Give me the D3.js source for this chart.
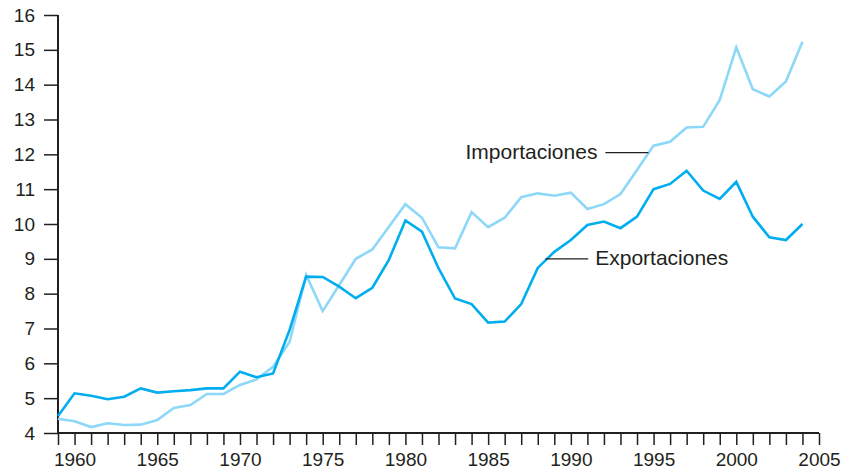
<!DOCTYPE html>
<html>
<head>
<meta charset="utf-8">
<script src="https://cdn.jsdelivr.net/npm/d3@7"></script>
<style>
  body { margin: 0; background: #fff; }
  svg text { font-family: "Liberation Sans", Arial, sans-serif; fill: #231f20; }
</style>
</head>
<body>
<svg class="chart" width="854" height="476"></svg>
<script>
// years 1959 .. 2004
const years = d3.range(1959, 2005)

const exportaciones = [
  4.49, 5.14, 5.07, 4.97, 5.04, 5.28, 5.16, 5.20, 5.23, 5.28,
  5.28, 5.76, 5.60, 5.71, 6.96, 8.49, 8.48, 8.20, 7.87, 8.17,
  8.97, 10.10, 9.78, 8.73, 7.86, 7.70, 7.17, 7.20, 7.70, 8.74,
  9.20, 9.54, 9.97, 10.07, 9.88, 10.21, 11.00, 11.15, 11.53, 10.96,
  10.72, 11.21, 10.21, 9.62, 9.54, 10.00
]

const importaciones = [
  4.41, 4.34, 4.17, 4.28, 4.23, 4.24, 4.37, 4.72, 4.80, 5.12,
  5.12, 5.38, 5.54, 5.90, 6.62, 8.54, 7.50, 8.25, 9.00, 9.27,
  9.92, 10.57, 10.18, 9.33, 9.30, 10.34, 9.91, 10.18, 10.77, 10.88,
  10.81, 10.90, 10.43, 10.57, 10.86, 11.55, 12.25, 12.36, 12.77, 12.79,
  13.56, 15.07, 13.87, 13.66, 14.09, 15.23
]

const yTicks = d3.range(4, 17)
const xLabels = [1960, 1965, 1970, 1975, 1980, 1985, 1990, 1995, 2000, 2005]

// label: text, leader line from [year, value] to [year, value]
const labels = [
  { name: 'Importaciones', from: [1992.09, 12.05], to: [1994.69, 12.05], side: 'left' },
  { name: 'Exportaciones', from: [1988.46, 9.0], to: [1991.05, 9.0], side: 'right' }
]

const margin = { left: 58, right: 35, top: 15, bottom: 43 }
const W = 854, H = 476

const svg = d3.select('svg.chart')

const x = d3.scaleLinear().domain([1959, 2005]).range([margin.left, W - margin.right])
const y = d3.scaleLinear().domain([4, 16]).range([H - margin.bottom, margin.top])

const ink = '#231f20'

// y axis
const yAxis = svg.append('g')
  .attr('transform', `translate(${margin.left},0)`)
  .call(d3.axisLeft(y).tickValues(yTicks).tickSize(14).tickPadding(9).tickFormat(d3.format('d')))
yAxis.select('.domain').attr('stroke', ink).attr('stroke-width', 2).attr('d', `M0,${y(16)}V${y(4)}`)
yAxis.selectAll('.tick line').attr('stroke', ink).attr('stroke-width', 1.5)
yAxis.selectAll('.tick text').attr('font-size', 19).attr('fill', ink)

// x axis
const xAxis = svg.append('g')
  .attr('transform', `translate(0,${y(4)})`)
  .call(d3.axisBottom(x).tickValues(d3.range(1959, 2006)).tickSize(12).tickPadding(8)
    .tickFormat(d => xLabels.includes(d) ? d : ''))
xAxis.select('.domain').attr('stroke', ink).attr('stroke-width', 2).attr('d', `M${x(1959)},0H${x(2005)}`)
xAxis.selectAll('.tick line').attr('stroke', ink).attr('stroke-width', 1.5)
xAxis.selectAll('.tick text').attr('font-size', 19).attr('fill', ink)

const line = d3.line().x((d, i) => x(years[i])).y(d => y(d))

svg.append('path')
  .datum(importaciones)
  .attr('d', line)
  .attr('fill', 'none')
  .attr('stroke', '#8dd8f8')
  .attr('stroke-width', 2.6)
  .attr('stroke-linejoin', 'miter')

svg.append('path')
  .datum(exportaciones)
  .attr('d', line)
  .attr('fill', 'none')
  .attr('stroke', '#00aeef')
  .attr('stroke-width', 2.6)
  .attr('stroke-linejoin', 'miter')

// labels with leader lines
labels.forEach(l => {
  svg.append('line')
    .attr('x1', x(l.from[0])).attr('y1', y(l.from[1]))
    .attr('x2', x(l.to[0])).attr('y2', y(l.to[1]))
    .attr('stroke', ink).attr('stroke-width', 1.3)
  const tx = l.side === 'left' ? x(l.from[0]) - 8 : x(l.to[0]) + 7
  svg.append('text')
    .attr('x', tx)
    .attr('y', y(l.from[1]) + 6)
    .attr('text-anchor', l.side === 'left' ? 'end' : 'start')
    .attr('font-size', 21)
    .text(l.name)
})
</script>
</body>
</html>
